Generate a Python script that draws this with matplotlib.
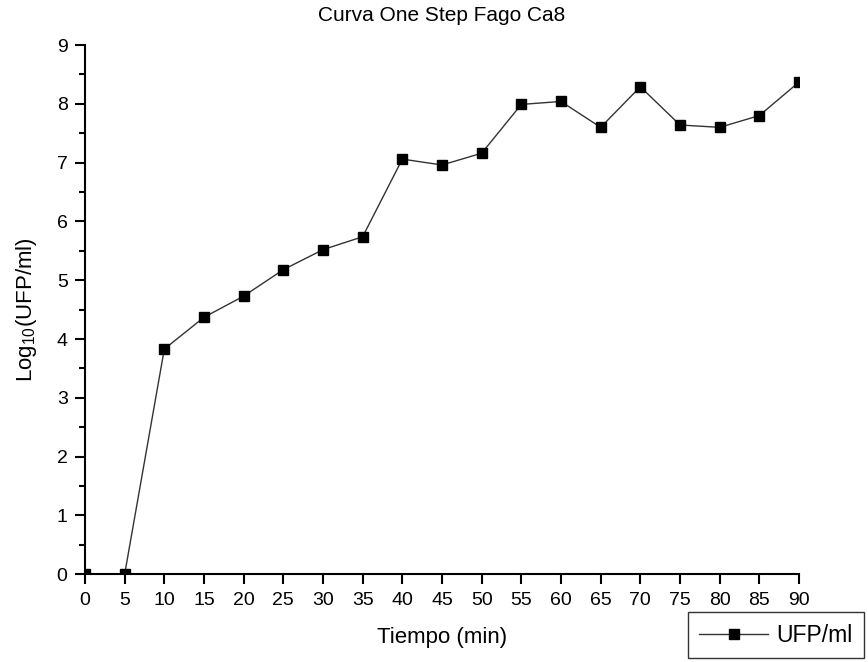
import matplotlib
matplotlib.use("Agg")
import matplotlib.pyplot as plt
from matplotlib.ticker import MultipleLocator

plt.rcParams['font.family'] = ['Liberation Sans', 'DejaVu Sans']
plt.rcParams['mathtext.fontset'] = 'custom'
plt.rcParams['mathtext.rm'] = 'Liberation Sans'
plt.rcParams['mathtext.it'] = 'Liberation Sans:italic'

tiempo = [0, 5, 10, 15, 20, 25, 30, 35, 40, 45, 50, 55, 60, 65, 70, 75, 80, 85, 90]
log_ufp = [0, 0, 3.83, 4.37, 4.73, 5.18, 5.52, 5.74, 7.06, 6.96, 7.16, 7.99, 8.04,
           7.60, 8.29, 7.64, 7.60, 7.80, 8.37]
x_ticks = list(range(0, 91, 5))
y_ticks = list(range(0, 10))

fig = plt.figure(figsize=(8.68, 6.62), dpi=100)
ax = fig.add_axes([0.0979, 0.1325, 0.8226, 0.7995])

ax.plot(tiempo, log_ufp, color='#333333', linewidth=1.0, marker='s',
        markersize=6.5, markerfacecolor='black', markeredgecolor='black',
        label='UFP/ml', zorder=2)

ax.set_xlim(0, 90)
ax.set_ylim(0, 9)
ax.set_xticks(x_ticks)
ax.set_yticks(y_ticks)
ax.yaxis.set_minor_locator(MultipleLocator(0.5))

for s in ['top', 'right']:
    ax.spines[s].set_visible(False)
for s in ['left', 'bottom']:
    ax.spines[s].set_linewidth(1.5)
    ax.spines[s].set_zorder(3)

ax.tick_params(which='major', direction='out', length=7.5, width=1.5, labelsize=14, pad=5)
ax.tick_params(which='minor', direction='out', length=4, width=1.5)

ax.set_xlabel('Tiempo (min)', fontsize=16, labelpad=13)
ax.set_ylabel('Log$_{10}$(UFP/ml)', fontsize=16, labelpad=13)
ax.set_title('Curva One Step Fago Ca8', fontsize=15, pad=17)

leg = fig.legend(loc='lower right', bbox_to_anchor=(0.998, 0.002),
                 bbox_transform=fig.transFigure, fontsize=16.5, frameon=True,
                 fancybox=False, edgecolor='black', handlelength=3.0,
                 borderpad=0.5, handletextpad=0.35, borderaxespad=0.1)
leg.get_frame().set_linewidth(1.0)

fig.savefig('out.png', dpi=100, facecolor='white')
